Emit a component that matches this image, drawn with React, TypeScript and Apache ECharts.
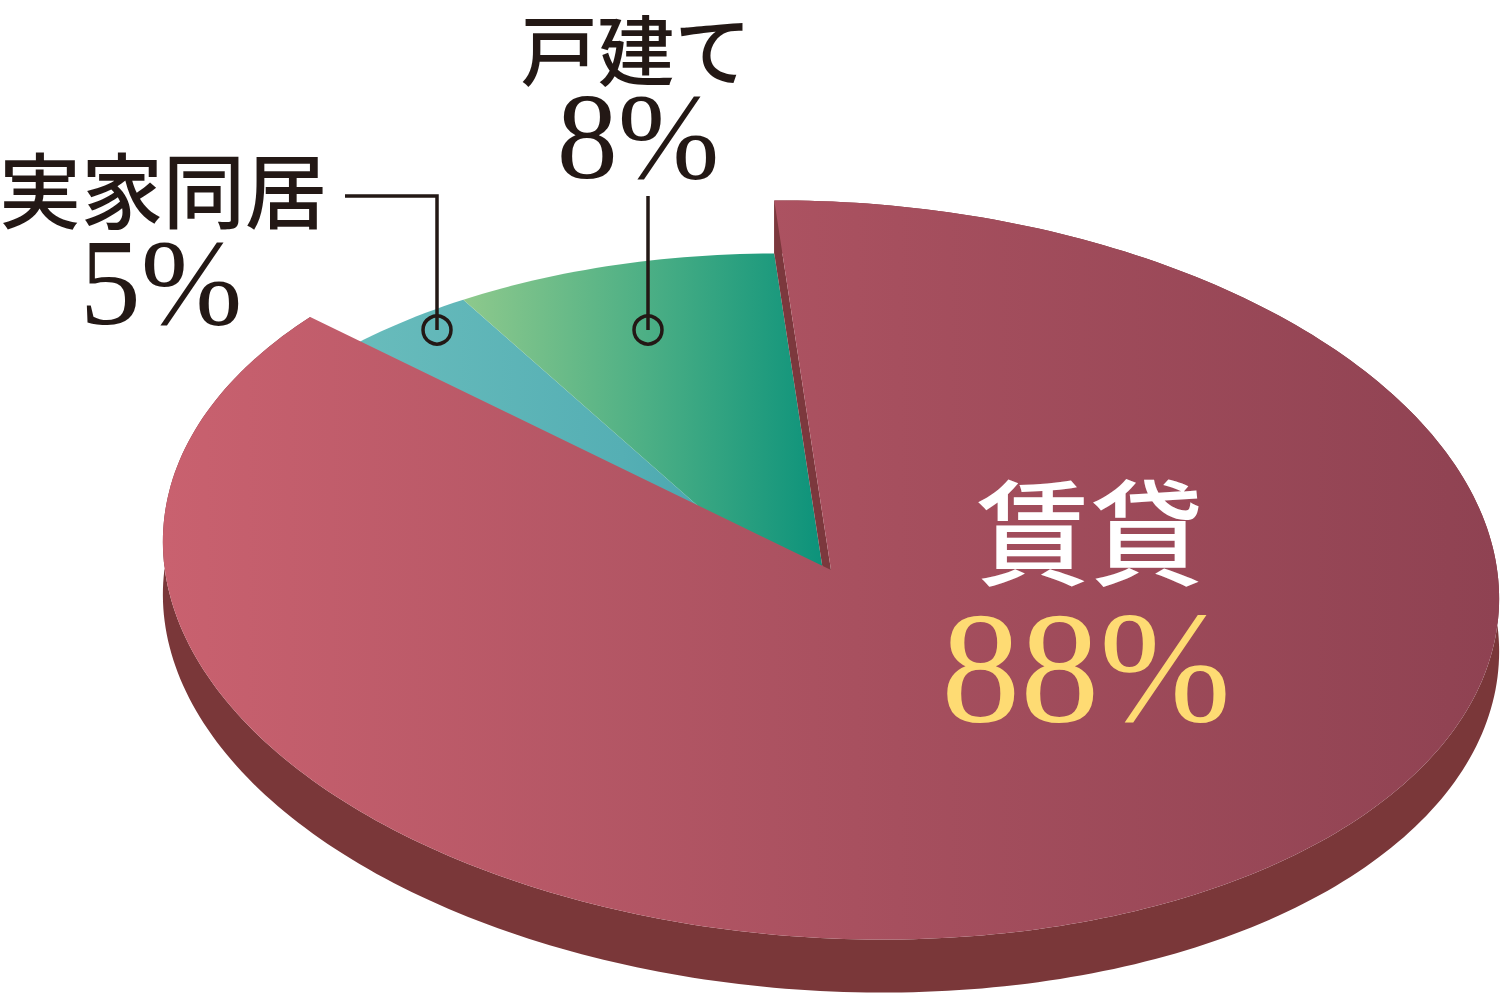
import { useEffect, useRef } from 'react';
import * as echarts from 'echarts';

// ---- data (clockwise order starting from the top edge of the large slice) ----
const categories = ['賃貸', '実家同居', '戸建て'];
const values = [88, 5, 8];
const valueLabels = ['88%', '5%', '8%'];

// ---- geometry of the tilted pie ----
const W = 1500;
const H = 995;
const CX = 831;
const CY = 570;
const RX = 669;
const RY = 368;
const TILT = (3.5 * Math.PI) / 180;
const DEPTH = 53;
const START_DEG = -6.8;

function pt(tDeg: number, dy = 0): number[] {
  const t = (tDeg * Math.PI) / 180;
  const ex = RX * Math.sin(t);
  const ey = -RY * Math.cos(t);
  return [
    CX + ex * Math.cos(TILT) - ey * Math.sin(TILT),
    CY + dy + ex * Math.sin(TILT) + ey * Math.cos(TILT),
  ];
}

function arc(t0: number, t1: number, dy: number): number[][] {
  const n = Math.max(2, Math.ceil(Math.abs(t1 - t0)));
  const pts: number[][] = [];
  for (let i = 0; i <= n; i++) pts.push(pt(t0 + ((t1 - t0) * i) / n, dy));
  return pts;
}

const total = values.reduce((a, b) => a + b, 0);
const slices = (() => {
  let acc = START_DEG;
  return values.map((v, i) => {
    const t0 = acc;
    const t1 = acc + (v / total) * 360;
    acc = t1;
    return { i, t0, t1 };
  });
})();

const drawOrder = [1, 2, 0];

const grad = (stops: [number, string][]) =>
  new echarts.graphic.LinearGradient(
    0,
    0,
    1,
    0,
    stops.map(([offset, color]) => ({ offset, color }))
  );

function renderItem(params: any, api: any) {
  const idx = api.value(0) as number;
  const s = slices[idx];
  if (idx === 0) {
    const top = arc(s.t0, s.t1, 0);
    const bottom = arc(s.t1, s.t0, DEPTH);
    const T = pt(s.t0, 0);
    const children: any[] = [
      {
        type: 'polygon',
        z2: 2,
        shape: { points: top.concat(bottom) },
        style: { fill: '#7a3739' },
      },
      {
        type: 'polygon',
        z2: 3,
        shape: { points: [T, [CX, CY], [CX, CY + DEPTH], [T[0], T[1] + DEPTH]] },
        style: { fill: '#7c383d' },
      },
      {
        type: 'polygon',
        z2: 4,
        shape: { points: [[CX, CY]].concat(top) },
        style: {
          fill: grad([
            [0, '#c9616f'],
            [0.55, '#a64f5e'],
            [1, '#8f4252'],
          ]),
        },
      },
    ];
    return { type: 'group', children };
  }
  const fill =
    idx === 2
      ? grad([
          [0, '#8ec98c'],
          [0.5, '#4caf85'],
          [1, '#09917a'],
        ])
      : grad([
          [0, '#6cbebd'],
          [0.6, '#55afb4'],
          [1, '#3c9aa9'],
        ]);
  return {
    type: 'polygon',
    z2: 1,
    shape: { points: [[CX, CY + DEPTH]].concat(arc(s.t0, s.t1, DEPTH)) },
    style: { fill },
  };
}

const CJK_FONT = 'Noto Sans CJK JP';
const NUM_FONT = 'Liberation Serif';
const INK = '#231815';

function label(
  text: string,
  x: number,
  y: number,
  size: number,
  fill: string,
  family: string,
  weight: string | number = 'normal'
) {
  return {
    type: 'text',
    z: 100,
    x,
    y,
    style: {
      text,
      fill,
      fontSize: size,
      fontFamily: family,
      fontWeight: weight,
      textAlign: 'center',
      textVerticalAlign: 'middle',
    },
  };
}

export default function App() {
  const ref = useRef<HTMLDivElement>(null);
  useEffect(() => {
    document.body.style.margin = '0';
    if (!ref.current) return;
    const chart = echarts.init(ref.current, undefined, { renderer: 'svg', width: W, height: H });
    chart.setOption({
      animation: false,
      backgroundColor: '#ffffff',
      series: [
        {
          type: 'custom',
          coordinateSystem: 'none',
          renderItem,
          data: drawOrder.map((i) => ({ name: categories[i], value: [i, values[i]] })),
          silent: true,
        },
      ],
      graphic: [
        {
          type: 'polyline',
          z: 90,
          shape: { points: [[345, 196], [437, 196], [437, 330]] },
          style: { stroke: INK, lineWidth: 3.5, fill: 'none' },
        },
        {
          type: 'circle',
          z: 90,
          shape: { cx: 437, cy: 330, r: 14 },
          style: { stroke: INK, lineWidth: 3.5, fill: 'none' },
        },
        {
          type: 'line',
          z: 90,
          shape: { x1: 648, y1: 196, x2: 648, y2: 330 },
          style: { stroke: INK, lineWidth: 3.5 },
        },
        {
          type: 'circle',
          z: 90,
          shape: { cx: 648, cy: 330, r: 14 },
          style: { stroke: INK, lineWidth: 3.5, fill: 'none' },
        },
        label(categories[2], 636, 46, 77, INK, CJK_FONT, 500),
        label(valueLabels[2], 638, 136, 122, INK, NUM_FONT),
        label(categories[1], 163, 186, 82, INK, CJK_FONT, 500),
        label(valueLabels[1], 161, 282, 122, INK, NUM_FONT),
        label(categories[0], 1090, 526, 114, '#ffffff', CJK_FONT, 500),
        label(valueLabels[0], 1086, 667, 158, '#fedb73', NUM_FONT),
      ],
    });
    return () => chart.dispose();
  }, []);
  return (
    <div
      ref={ref}
      style={{ position: 'absolute', left: 0, top: 0, width: W, height: H }}
    />
  );
}
